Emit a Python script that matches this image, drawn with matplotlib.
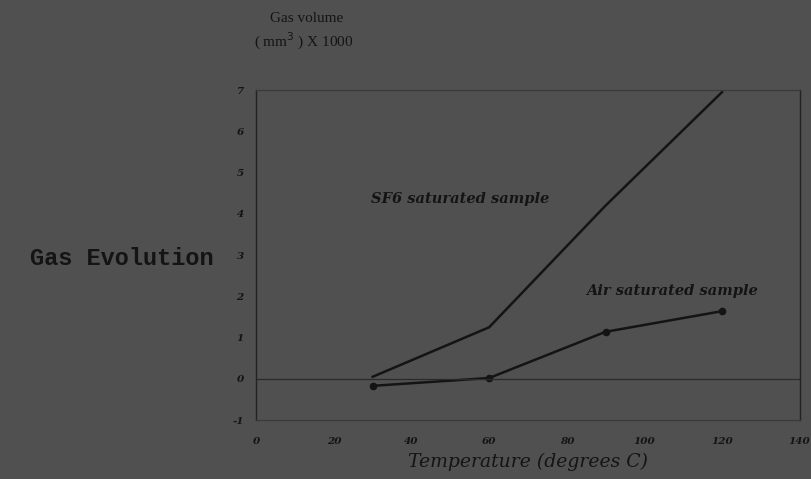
import matplotlib.pyplot as plt

# gas evolution vs temperature, two saturation conditions
temperature = [30, 60, 90, 120]
sf6_volume = [0.05, 1.25, 4.2, 6.95]
air_volume = [-0.17, 0.02, 1.14, 1.64]

x_ticks = [0, 20, 40, 60, 80, 100, 120, 140]
y_ticks = [-1, 0, 1, 2, 3, 4, 5, 6, 7]

bg = "#505050"
ink = "#141414"

fig = plt.figure(figsize=(8.11, 4.79), dpi=100, facecolor=bg)
ax = fig.add_axes([0.316, 0.123, 0.670, 0.689], facecolor=bg)

ax.plot(temperature, sf6_volume, color=ink, lw=1.8)
ax.plot(temperature, air_volume, color=ink, lw=1.8, marker="o", ms=4.5)
ax.axhline(0, color="#2a2a2a", lw=0.9)

ax.set_xlim(0, 140)
ax.set_ylim(-1, 7)
ax.set_xticks(x_ticks)
ax.set_yticks(y_ticks)
tick_font = dict(family="DejaVu Serif", style="italic", weight="bold", size=7.5)
ax.set_xticklabels([str(v) for v in x_ticks], **tick_font, color=ink)
ax.set_yticklabels([str(v) for v in y_ticks], **tick_font, color=ink)
ax.tick_params(axis="x", length=0, pad=12)
ax.tick_params(axis="y", length=0, pad=9)

for side in ["left", "right"]:
    ax.spines[side].set_color("#222222")
    ax.spines[side].set_linewidth(1.0)
for side in ["top", "bottom"]:
    ax.spines[side].set_color("#3a3a3a")
    ax.spines[side].set_linewidth(0.9)

# x axis title, placed by hand below the tick labels
ax.text(0.5, -0.127, "Temperature (degrees C)", transform=ax.transAxes,
        family="DejaVu Serif", style="italic", size=13.5, color=ink,
        ha="center", va="center")

note_font = dict(family="DejaVu Serif", style="italic", weight="bold",
                 size=10.5, color=ink, va="center")
ax.text(29.5, 4.35, "SF6 saturated sample", **note_font)
ax.text(85, 2.12, "Air saturated sample", **note_font)

# axis title above the y axis
fig.text(0.378, 0.955, "Gas volume", family="Liberation Serif", size=11,
         color=ink, ha="center")
fig.text(0.375, 0.902, "( mm$^3$ ) X 1000", family="Liberation Serif",
         size=11, color=ink, ha="center")

fig.text(0.037, 0.447, "Gas Evolution", family="Liberation Mono",
         weight="bold", size=17, color=ink)

fig.savefig("out.png", facecolor=bg)
